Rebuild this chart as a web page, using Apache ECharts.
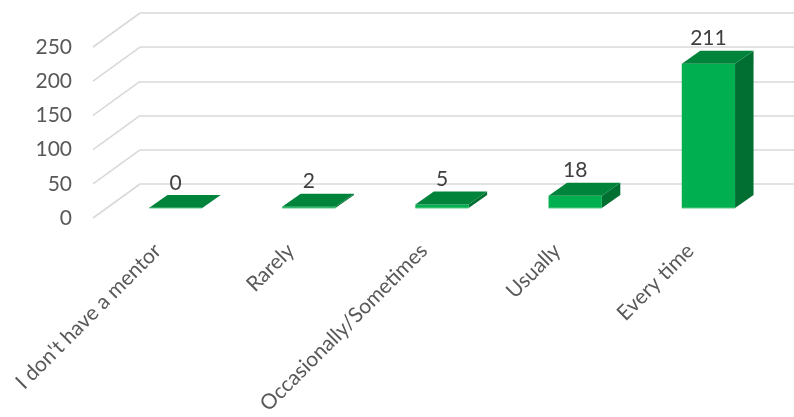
<!DOCTYPE html>
<html><head><meta charset="utf-8">
<script src="https://cdn.jsdelivr.net/npm/echarts@6/dist/echarts.min.js"></script>
<style>html,body{margin:0;padding:0;background:#fff}#c{width:794px;height:417px}</style>
</head><body><div id="c"></div>
<script>
const categories = ["I don't have a mentor", "Rarely", "Occasionally/Sometimes", "Usually", "Every time"];
const values = [0, 2, 5, 18, 211];
const yTicks = [0, 50, 100, 150, 200, 250];

const DEPTH_X = 18.5, DEPTH_Y = -13;   // bar depth offset
const WALL_DX = 47, WALL_DY = -34;     // front plane -> back wall offset
const FONT = 'Lato, "Open Sans", sans-serif';
const GRID_COLOR = '#d9d9d9';

const chart = echarts.init(document.getElementById('c'), null, {renderer: 'canvas'});

function diagonals(params, api) {
  const p = api.coord([0, api.value(1)]);
  return {
    type: 'line',
    shape: {x1: p[0], y1: p[1], x2: p[0] - WALL_DX, y2: p[1] - WALL_DY},
    style: {stroke: GRID_COLOR, lineWidth: 1.6}
  };
}

function bars(params, api) {
  const i = api.value(0), v = api.value(1);
  const base = api.coord([i, 0]), top = api.coord([i, v]);
  const w = api.size([1, 0])[0] * 0.4;
  const x0 = base[0] - w / 2, x1 = base[0] + w / 2, yb = base[1], yt = top[1];
  const dx = DEPTH_X, dy = DEPTH_Y;
  return {
    type: 'group',
    children: [
      {type: 'polygon', shape: {points: [[x1, yb], [x1 + dx, yb + dy], [x1 + dx, yt + dy], [x1, yt]]}, style: {fill: '#006F31'}},
      {type: 'rect', shape: {x: x0, y: yt, width: w, height: yb - yt}, style: {fill: '#00B050'}},
      {type: 'polygon', shape: {points: [[x0, yt], [x0 + dx, yt + dy], [x1 + dx, yt + dy], [x1, yt]]}, style: {fill: '#00843C'}},
      {type: 'line', shape: {x1: x0, y1: yb, x2: x1, y2: yb}, style: {stroke: '#5CCB8B', lineWidth: 1}},
      {type: 'text', style: {text: String(v), x: base[0], y: yt + dy - 12, align: 'center', verticalAlign: 'middle',
        fontSize: 21, fontFamily: FONT, fill: '#404040'}}
    ]
  };
}

const option = {
  animation: false,
  grid: [
    {left: 140, right: 0, top: 13, bottom: 233},
    {left: 93, top: 47, bottom: 199, width: 600},
    {left: 109, width: 666, top: 37, bottom: 209},
    {left: 91, width: 666, top: 37, bottom: 209}
  ],
  xAxis: [
    {gridIndex: 0, type: 'value', min: 0, max: 1, show: false},
    {gridIndex: 1, type: 'value', min: 0, max: 1, show: false},
    {gridIndex: 2, type: 'category', data: categories, show: false},
    {gridIndex: 3, type: 'category', data: categories,
      axisLine: {show: false}, axisTick: {show: false}, splitLine: {show: false},
      axisLabel: {rotate: 45, margin: 42, interval: 0, fontSize: 21, color: '#595959', fontFamily: FONT}}
  ],
  yAxis: [
    {gridIndex: 0, type: 'value', min: 0, max: 250, interval: 50,
      axisLabel: {show: false}, axisLine: {show: false}, axisTick: {show: false},
      splitLine: {show: true, lineStyle: {color: GRID_COLOR, width: 1.6}}},
    {gridIndex: 1, type: 'value', min: 0, max: 250, interval: 50,
      axisLine: {show: false}, axisTick: {show: false}, splitLine: {show: false},
      axisLabel: {margin: 21, fontSize: 21, color: '#595959', fontFamily: FONT}},
    {gridIndex: 2, type: 'value', min: 0, max: 250, interval: 50, show: false},
    {gridIndex: 3, type: 'value', min: 0, max: 250, interval: 50, show: false}
  ],
  series: [
    {type: 'custom', xAxisIndex: 0, yAxisIndex: 0, data: yTicks.map(v => [0, v]),
      encode: {x: 0, y: 1}, renderItem: diagonals, silent: true},
    {type: 'custom', xAxisIndex: 2, yAxisIndex: 2, data: values.map((v, i) => [i, v]),
      encode: {x: 0, y: 1}, renderItem: bars, silent: true}
  ]
};
chart.setOption(option);
</script>
</body></html>
